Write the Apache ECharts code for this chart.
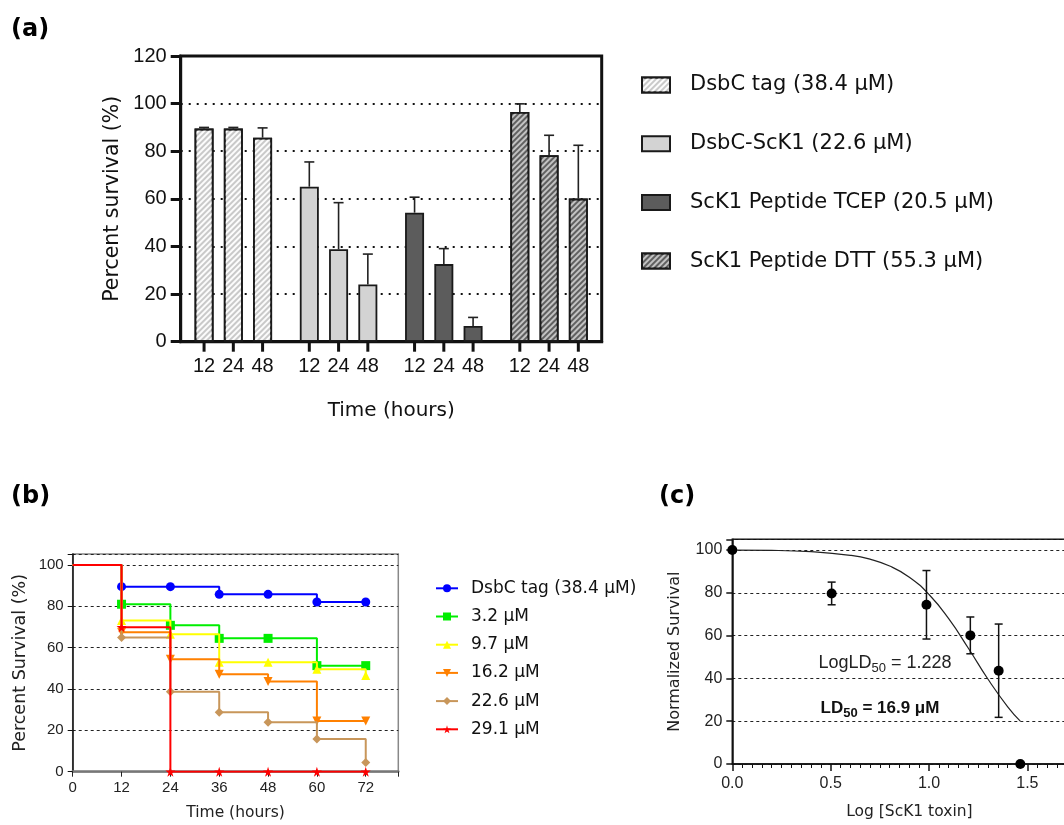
<!DOCTYPE html>
<html>
<head>
<meta charset="utf-8">
<script src="https://cdn.jsdelivr.net/npm/echarts@6/dist/echarts.min.js"></script>
<style>
  html, body { margin: 0; padding: 0; background: #fff; }
  #main { width: 1064px; height: 825px; }
</style>
</head>
<body>
<div id="main"></div>
<script>
// ---- (a) bar chart data
var groupNames = ['DsbC tag (38.4 μM)', 'DsbC-ScK1 (22.6 μM)', 'ScK1 Peptide TCEP (20.5 μM)', 'ScK1 Peptide DTT (55.3 μM)'];
var timeLabels = ['12', '24', '48'];
var survival12 = [89.5, 65.1, 54.2, 96.5];
var survival24 = [89.5, 38.8, 32.6, 78.3];
var survival48 = [85.7, 24.0, 6.6, 60.1];
var errorUp12 = [0.5, 10.4, 6.5, 3.4];
var errorUp24 = [0.5, 19.6, 6.5, 8.4];
var errorUp48 = [4.1, 12.8, 3.6, 22.4];

// ---- (b) survival curves data
var kmTimes = [0, 12, 24, 36, 48, 60, 72];
var kmNames = ['DsbC tag (38.4 μM) ', '3.2 μM', '9.7 μM', '16.2 μM', '22.6 μM', '29.1 μM'];
var kmDsbC = [100, 89.5, 89.5, 85.8, 85.8, 82.1, 82.1];
var km3_2 = [100, 81.0, 70.8, 64.5, 64.5, 51.3, 51.3];
var km9_7 = [100, 73.1, 66.5, 52.9, 52.9, 49.5, 46.5];
var km16_2 = [100, 67.4, 54.4, 47.1, 43.6, 24.5, 24.5];
var km22_6 = [100, 64.9, 38.7, 28.7, 23.9, 15.8, 4.5];
var km29_1 = [100, 69.9, 0, 0, 0, 0, 0];

// ---- (c) dose response data
var doseLog = [0, 0.505, 0.987, 1.21, 1.354, 1.464];
var normSurvival = [100, 79.7, 74.4, 60.1, 43.6, 0];
var normError = [0, 5.3, 16.0, 8.6, 21.8, 0];
var fitLog = [0, 0.2, 0.4, 0.6, 0.7, 0.8, 0.9, 1.0, 1.1, 1.2, 1.3, 1.4, 1.464];
var fitSurvival = [99.9, 99.8, 99.2, 97.5, 95.7, 92.5, 87.3, 79.2, 67.9, 54.1, 39.6, 26.7, 20.0];

var ARIAL = '"Liberation Sans", Arial, sans-serif';
var WIDE = '"DejaVu Sans", Verdana, sans-serif';

var stripe = function (c) {
    return { symbol: 'rect', symbolSize: 1, dashArrayX: [1, 0], dashArrayY: [1.6, 1.8], rotation: -Math.PI / 4, color: c };
};
var groupStyles = [
    { color: '#c9c9c9', decal: stripe('rgba(255,255,255,0.95)') },
    { color: '#d3d3d3' },
    { color: '#5c5c5c' },
    { color: '#606060', decal: stripe('rgba(205,205,205,0.9)') }
];
var BAR_W = 19, BAR_GAP = 0.54;
var BAR_STEP = BAR_W * (1 + BAR_GAP);

var kmColors = ['#0000ff', '#00ee00', '#ffff00', '#ff8000', '#c8965a', '#ff0000'];
var starPath = 'path://M50,0 L61,35 L98,35 L68,57 L79,91 L50,70 L21,91 L32,57 L2,35 L39,35 Z';
var kmSymbols = ['circle', 'rect', 'triangle', 'triangle', 'diamond', starPath];
var kmRotate = [0, 0, 0, 180, 0, 0];

var myChart = echarts.init(document.getElementById('main'));

function timeSeries(idx, values) {
    return {
        name: timeLabels[idx],
        type: 'bar',
        xAxisIndex: 0, yAxisIndex: 0,
        barWidth: BAR_W,
        barGap: (BAR_GAP * 100) + '%',
        itemStyle: { borderColor: '#1a1a1a', borderWidth: 1.8 },
        data: values.map(function (v, i) { return { value: v, itemStyle: groupStyles[i] }; }),
        label: {
            show: true, position: 'bottom', distance: 15,
            formatter: timeLabels[idx],
            fontFamily: ARIAL, fontSize: 20, color: '#111'
        },
        z: 3
    };
}

// error bars + ticks under each bar of (a)
var barErrData = [];
[[survival12, errorUp12], [survival24, errorUp24], [survival48, errorUp48]].forEach(function (pair, t) {
    pair[0].forEach(function (v, g) { barErrData.push([g, v, pair[1][g], t]); });
});

function renderBarErrors(params, api) {
    var g = api.value(0), mean = api.value(1), err = api.value(2), slot = api.value(3);
    var base = api.coord([g, 0]);
    var top = api.coord([g, mean]);
    var hi = api.coord([g, mean + err]);
    var x = base[0] + (slot - 1) * BAR_STEP;
    var stroke = { stroke: '#222', lineWidth: 1.6 };
    return {
        type: 'group',
        children: [
            { type: 'line', shape: { x1: x, y1: base[1], x2: x, y2: base[1] + 10 }, style: { stroke: '#111', lineWidth: 3 } },
            { type: 'line', shape: { x1: x, y1: top[1], x2: x, y2: hi[1] }, style: stroke },
            { type: 'line', shape: { x1: x - 5, y1: hi[1], x2: x + 5, y2: hi[1] }, style: stroke }
        ]
    };
}

function renderDoseErrors(params, api) {
    var x = api.value(0), m = api.value(1), e = api.value(2);
    if (!e) { return null; }
    var lo = api.coord([x, m - e]), hi = api.coord([x, m + e]);
    var st = { stroke: '#111', lineWidth: 1.5 };
    return {
        type: 'group',
        children: [
            { type: 'line', shape: { x1: lo[0], y1: lo[1], x2: hi[0], y2: hi[1] }, style: st },
            { type: 'line', shape: { x1: lo[0] - 4, y1: lo[1], x2: lo[0] + 4, y2: lo[1] }, style: st },
            { type: 'line', shape: { x1: hi[0] - 4, y1: hi[1], x2: hi[0] + 4, y2: hi[1] }, style: st }
        ]
    };
}

var kmSets = [kmDsbC, km3_2, km9_7, km16_2, km22_6, km29_1];
var kmSeries = kmSets.map(function (vals, s) {
    return {
        name: kmNames[s],
        type: 'line',
        xAxisIndex: 1, yAxisIndex: 1,
        step: 'end',
        symbol: kmSymbols[s],
        symbolRotate: kmRotate[s],
        symbolSize: s === 5 ? 10 : 9,
        lineStyle: { width: 2, color: kmColors[s] },
        itemStyle: { color: kmColors[s] },
        data: kmTimes.map(function (t, i) {
            return i === 0 ? { value: [t, vals[i]], symbol: 'none' } : [t, vals[i]];
        }),
        z: 3 + s
    };
});

// legend-only bar series for (a), parked on grid (c) so they do not shift the bars
var legendBars = groupNames.map(function (n, i) {
    return {
        name: n, type: 'bar', xAxisIndex: 2, yAxisIndex: 2, data: [],
        itemStyle: Object.assign({ borderColor: '#1a1a1a', borderWidth: 1.2 }, groupStyles[i])
    };
});

var option = {
    animation: false,
    backgroundColor: '#fff',
    textStyle: { fontFamily: ARIAL },
    grid: [
        { left: 180.7, top: 56, width: 421, height: 285.7, show: true, borderColor: '#111', borderWidth: 3, backgroundColor: 'transparent', outerBoundsMode: 'none' },
        { left: 72.7, top: 554, width: 325.6, height: 217.7, show: true, borderColor: '#888', borderWidth: 1.5, backgroundColor: 'transparent', outerBoundsMode: 'none' },
        { left: 732.3, top: 539.3, width: 354.1, height: 224.7, show: true, borderColor: '#111', borderWidth: 1.5, backgroundColor: 'transparent', outerBoundsMode: 'none' }
    ],
    legend: [
        {
            data: groupNames, left: 636, top: 68, orient: 'vertical',
            itemWidth: 28, itemHeight: 15, itemGap: 34.7, icon: 'rect',
            textStyle: { fontFamily: WIDE, fontSize: 21, color: '#111', lineHeight: 24, padding: [0, 0, 0, 15] }
        },
        {
            data: kmNames, left: 430, top: 574.3, orient: 'vertical',
            itemWidth: 22, itemHeight: 10, itemGap: 10.2,
            formatter: function (n) { return n.trim(); },
            textStyle: { fontFamily: WIDE, fontSize: 17, color: '#111', lineHeight: 18, padding: [0, 0, 0, 8] }
        }
    ],
    xAxis: [
        {
            gridIndex: 0, type: 'category', data: groupNames,
            axisLine: { lineStyle: { color: '#111', width: 3 } },
            axisTick: { show: false }, axisLabel: { show: false },
            name: 'Time (hours)', nameLocation: 'middle', nameGap: 59,
            nameTextStyle: { fontFamily: WIDE, fontSize: 20, color: '#111' }
        },
        {
            gridIndex: 1, type: 'value', min: 0, max: 80, interval: 12,
            axisLine: { lineStyle: { color: '#777', width: 2.5 } },
            axisTick: { show: true, length: 5, lineStyle: { color: '#222', width: 1 } },
            axisLabel: {
                fontFamily: ARIAL, fontSize: 15, color: '#222', margin: 9,
                formatter: function (v) { return v % 12 === 0 ? v : ''; }
            },
            splitLine: { show: false },
            name: 'Time (hours)', nameLocation: 'middle', nameGap: 33,
            nameTextStyle: { fontFamily: WIDE, fontSize: 15.5, color: '#222' }
        },
        {
            gridIndex: 2, type: 'value', min: 0, max: 1.8, interval: 0.5,
            axisLine: { lineStyle: { color: '#111', width: 1.5 } },
            axisTick: { show: true, length: 7, lineStyle: { color: '#111', width: 1.5 } },
            minorTick: { show: true, splitNumber: 10, length: 4, lineStyle: { color: '#111', width: 1 } },
            axisLabel: {
                fontFamily: ARIAL, fontSize: 16, color: '#222', margin: 12,
                formatter: function (v) { return v.toFixed(1); }
            },
            splitLine: { show: false },
            name: 'Log [ScK1 toxin]', nameLocation: 'middle', nameGap: 40,
            nameTextStyle: { fontFamily: WIDE, fontSize: 15.5, color: '#222' }
        }
    ],
    yAxis: [
        {
            gridIndex: 0, type: 'value', min: 0, max: 120, interval: 20,
            axisLine: { show: true, lineStyle: { color: '#111', width: 3 } },
            axisTick: { show: true, length: 10, lineStyle: { color: '#111', width: 3 } },
            axisLabel: { fontFamily: ARIAL, fontSize: 20, color: '#111', margin: 14 },
            splitLine: { show: true, lineStyle: { color: '#111', width: 2, type: [2, 6] } },
            name: 'Percent survival (%)', nameLocation: 'middle', nameGap: 58,
            nameTextStyle: { fontFamily: WIDE, fontSize: 20.5, color: '#111' }
        },
        {
            gridIndex: 1, type: 'value', min: 0, max: 105.3, interval: 20,
            axisLine: { show: true, lineStyle: { color: '#111', width: 1.5 } },
            axisTick: { show: true, length: 5, lineStyle: { color: '#111', width: 1 } },
            axisLabel: {
                fontFamily: ARIAL, fontSize: 15, color: '#222', margin: 9,
                formatter: function (v) { return v % 20 === 0 ? v : ''; }
            },
            splitLine: { show: true, lineStyle: { color: '#222', width: 1, type: [3, 3] } },
            name: 'Percent Survival (%)', nameLocation: 'middle', nameGap: 43,
            nameTextStyle: { fontFamily: WIDE, fontSize: 17.5, color: '#222' }
        },
        {
            gridIndex: 2, type: 'value', min: 0, max: 105, interval: 20,
            axisLine: { show: true, lineStyle: { color: '#111', width: 1.5 } },
            axisTick: { show: true, length: 6, lineStyle: { color: '#111', width: 1.5 } },
            axisLabel: {
                fontFamily: ARIAL, fontSize: 16, color: '#222', margin: 10,
                formatter: function (v) { return v % 20 === 0 ? v : ''; }
            },
            splitLine: { show: true, lineStyle: { color: '#222', width: 1, type: [3, 3] } },
            name: 'Normalized Survival', nameLocation: 'middle', nameGap: 49,
            nameTextStyle: { fontFamily: WIDE, fontSize: 16, color: '#222' }
        }
    ],
    series: [
        timeSeries(0, survival12),
        timeSeries(1, survival24),
        timeSeries(2, survival48),
        {
            type: 'custom', xAxisIndex: 0, yAxisIndex: 0,
            renderItem: renderBarErrors, data: barErrData, z: 4, silent: true
        }
    ].concat(kmSeries).concat(legendBars).concat([
        {
            type: 'line', xAxisIndex: 2, yAxisIndex: 2, smooth: true, symbol: 'none',
            lineStyle: { color: '#222', width: 1.2 },
            data: fitLog.map(function (x, i) { return [x, fitSurvival[i]]; }), z: 3
        },
        {
            type: 'custom', xAxisIndex: 2, yAxisIndex: 2, renderItem: renderDoseErrors,
            data: doseLog.map(function (x, i) { return [x, normSurvival[i], normError[i]]; }), z: 4
        },
        {
            type: 'scatter', xAxisIndex: 2, yAxisIndex: 2, symbolSize: 10, clip: false,
            itemStyle: { color: '#000', opacity: 1 },
            data: doseLog.map(function (x, i) { return [x, normSurvival[i]]; }), z: 5
        }
    ]),
    graphic: [
        { type: 'text', x: 11, y: 30, style: { text: '(a)', font: 'bold 24px ' + WIDE, fill: '#000', align: 'left', verticalAlign: 'middle' } },
        { type: 'text', x: 11, y: 497, style: { text: '(b)', font: 'bold 24px ' + WIDE, fill: '#000', align: 'left', verticalAlign: 'middle' } },
        { type: 'text', x: 659, y: 497, style: { text: '(c)', font: 'bold 24px ' + WIDE, fill: '#000', align: 'left', verticalAlign: 'middle' } },
        {
            type: 'text', x: 885, y: 663,
            style: {
                text: '{n|LogLD}{s|50}{n| = 1.228}', align: 'center', verticalAlign: 'middle',
                rich: {
                    n: { fontFamily: ARIAL, fontSize: 18, fill: '#222', lineHeight: 24 },
                    s: { fontFamily: ARIAL, fontSize: 13, fill: '#222', lineHeight: 24, verticalAlign: 'bottom' }
                }
            }
        },
        {
            type: 'text', x: 880, y: 708,
            style: {
                text: '{n|LD}{s|50}{n| = 16.9 μM}', align: 'center', verticalAlign: 'middle',
                rich: {
                    n: { fontFamily: ARIAL, fontSize: 17, fontWeight: 'bold', fill: '#111', lineHeight: 24 },
                    s: { fontFamily: ARIAL, fontSize: 13, fontWeight: 'bold', fill: '#111', lineHeight: 24, verticalAlign: 'bottom' }
                }
            }
        }
    ]
};

myChart.setOption(option);
window.addEventListener('resize', function () {
    myChart.resize();
});
</script>
</body>
</html>
